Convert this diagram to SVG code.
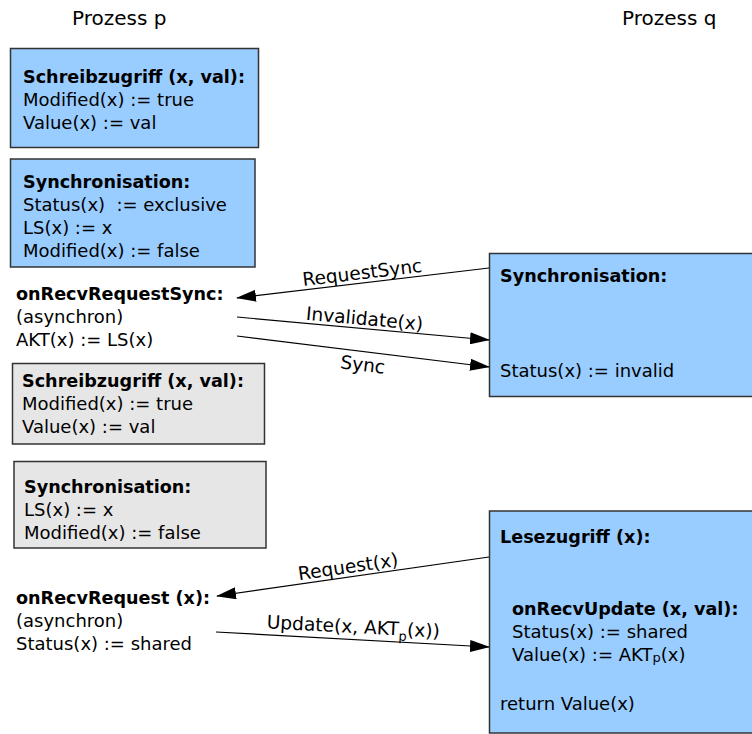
<svg xmlns="http://www.w3.org/2000/svg" width="752" height="734" viewBox="0 0 752 734">
  <defs>
    <style>
      text { font-family: "DejaVu Sans", Verdana, sans-serif; font-size: 18px; fill: #000; }
      .b { font-weight: bold; font-size: 17.6px; }
      .head { font-size: 20px; }
      .lbl { font-size: 18.6px; }
      .blue { fill: #99ccff; stroke: #333; stroke-width: 1.5; }
      .grey { fill: #e6e6e6; stroke: #333; stroke-width: 1.5; }
      .msg { fill: none; stroke: #000; stroke-width: 1.2; }
      .sub { font-size: 13px; }
    </style>
    <marker id="arr" markerWidth="20" markerHeight="12" refX="19" refY="6" orient="auto" markerUnits="userSpaceOnUse">
      <path d="M0,0 L20,6 L0,12 Z" fill="#000"/>
    </marker>
  </defs>
  <rect width="752" height="734" fill="#fff"/>

  <!-- process headings -->
  <text class="head" x="72" y="25">Prozess p</text>
  <text class="head" x="622" y="25">Prozess q</text>

  <!-- process p -->
  <g id="p-write1">
    <rect class="blue" x="10.5" y="48.5" width="248" height="99"/>
    <text x="23" y="83" class="b">Schreibzugriff (x, val):</text>
    <text x="23" y="106">Modified(x) := true</text>
    <text x="23" y="129">Value(x) := val</text>
  </g>
  <g id="p-sync1">
    <rect class="blue" x="10.5" y="159" width="244.5" height="108"/>
    <text x="23" y="188" class="b">Synchronisation:</text>
    <text x="23" y="211" xml:space="preserve">Status(x)  := exclusive</text>
    <text x="23" y="234">LS(x) := x</text>
    <text x="23" y="257">Modified(x) := false</text>
  </g>
  <g id="p-recv-sync">
    <text x="16" y="300" class="b">onRecvRequestSync:</text>
    <text x="16" y="323">(asynchron)</text>
    <text x="16" y="346">AKT(x) := LS(x)</text>
  </g>
  <g id="p-write2">
    <rect class="grey" x="12.5" y="363.5" width="252" height="80.5"/>
    <text x="22" y="387" class="b">Schreibzugriff (x, val):</text>
    <text x="22" y="410">Modified(x) := true</text>
    <text x="22" y="433">Value(x) := val</text>
  </g>
  <g id="p-sync2">
    <rect class="grey" x="14" y="461.5" width="252" height="86.5"/>
    <text x="24" y="493" class="b">Synchronisation:</text>
    <text x="24" y="516">LS(x) := x</text>
    <text x="24" y="539">Modified(x) := false</text>
  </g>
  <g id="p-recv-request">
    <text x="16" y="604" class="b">onRecvRequest (x):</text>
    <text x="16" y="627">(asynchron)</text>
    <text x="16" y="650">Status(x) := shared</text>
  </g>

  <!-- process q -->
  <g id="q-sync">
    <rect class="blue" x="489.5" y="253.5" width="264" height="143"/>
    <text x="500" y="282" class="b">Synchronisation:</text>
    <text x="500" y="377">Status(x) := invalid</text>
  </g>
  <g id="q-read">
    <rect class="blue" x="489.5" y="511" width="264" height="222"/>
    <text x="500" y="543" class="b">Lesezugriff (x):</text>
    <text x="512" y="615" class="b">onRecvUpdate (x, val):</text>
    <text x="512" y="638">Status(x) := shared</text>
    <text x="512" y="661">Value(x) := AKT<tspan class="sub" dy="1">p</tspan><tspan dy="-1">(x)</tspan></text>
    <text x="500" y="710">return Value(x)</text>
  </g>

  <!-- messages -->
  <g id="connectors">
    <line class="msg" x1="489" y1="268" x2="237" y2="298" marker-end="url(#arr)"/>
    <line class="msg" x1="237" y1="317" x2="489" y2="340" marker-end="url(#arr)"/>
    <line class="msg" x1="237" y1="336" x2="489" y2="367" marker-end="url(#arr)"/>
    <line class="msg" x1="489" y1="557" x2="217" y2="596" marker-end="url(#arr)"/>
    <line class="msg" x1="216" y1="632" x2="489" y2="647" marker-end="url(#arr)"/>

    <text class="lbl" transform="translate(363,279) rotate(-6.8)" text-anchor="middle">RequestSync</text>
    <text class="lbl" transform="translate(364,325) rotate(5.2)" text-anchor="middle">Invalidate(x)</text>
    <text class="lbl" transform="translate(362,371) rotate(7)" text-anchor="middle">Sync</text>
    <text class="lbl" transform="translate(349,573) rotate(-8.2)" text-anchor="middle">Request(x)</text>
    <text class="lbl" transform="translate(353,633) rotate(3.1)" text-anchor="middle">Update(x, AKT<tspan class="sub" dy="5">p</tspan><tspan dy="-5">(x))</tspan></text>
  </g>
</svg>
